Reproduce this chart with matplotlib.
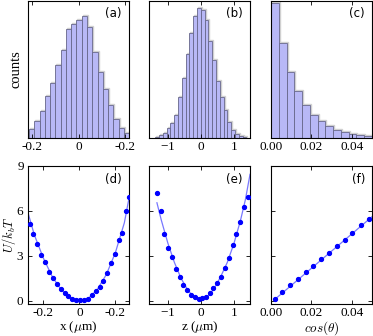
import numpy as np
import matplotlib
matplotlib.use("Agg")
import matplotlib.pyplot as plt
from matplotlib.transforms import offset_copy

plt.rcParams['font.family'] = ['Liberation Serif', 'DejaVu Serif']
plt.rcParams['mathtext.fontset'] = 'cm'
plt.rcParams['axes.formatter.use_mathtext'] = True

# histogram data (bin edges + counts)
a_edges = np.linspace(-0.211, 0.216, 20)
a_counts = [28, 52, 82, 126, 165, 219, 265, 328, 345, 357, 367, 335, 259, 200,
            149, 99, 57, 30, 14]

b_edges = np.linspace(-1.38, 1.38, 25)
b_counts = [3, 8, 15, 30, 45, 70, 125, 180, 255, 318, 368, 393, 385, 355, 292,
            235, 172, 125, 85, 47, 25, 13, 6, 3]

c_edges = np.linspace(0.0, 0.05, 14)
c_counts = [407, 288, 200, 143, 100, 70, 50, 35, 25, 17, 12, 8, 5]

# potentials
d_x = [-0.274, -0.256, -0.233, -0.211, -0.191, -0.168, -0.146, -0.126, -0.103,
       -0.081, -0.061, -0.039, -0.017, 0.004, 0.026, 0.048, 0.069, 0.091,
       0.113, 0.133, 0.156, 0.176, 0.198, 0.219, 0.239, 0.259, 0.278]
d_u = [5.15, 4.48, 3.8, 3.07, 2.6, 1.95, 1.55, 1.1, 0.8, 0.54, 0.32, 0.13,
       0.07, 0.05, 0.05, 0.13, 0.36, 0.63, 0.92, 1.32, 1.88, 2.53, 3.13, 4.07,
       4.54, 5.97, 6.9]
d_fit_x = [-0.285, -0.25, -0.2, -0.15, -0.1, -0.05, 0.0, 0.05, 0.1, 0.15, 0.2,
           0.25, 0.278]
d_fit_u = [5.87, 4.4, 2.85, 1.6, 0.72, 0.18, 0.0, 0.15, 0.75, 1.75, 3.2, 5.2,
           6.98]

e_x = [-1.33, -1.22, -1.11, -1.0, -0.88, -0.76, -0.64, -0.53, -0.41, -0.29,
       -0.17, -0.05, 0.05, 0.16, 0.27, 0.38, 0.49, 0.62, 0.73, 0.85, 0.96,
       1.07, 1.19, 1.30, 1.42]
e_u = [7.18, 6.0, 4.45, 3.54, 2.89, 2.15, 1.59, 1.07, 0.72, 0.4, 0.23, 0.13,
       0.15, 0.27, 0.5, 0.83, 1.21, 1.57, 2.19, 2.85, 3.69, 4.48, 5.28, 6.27,
       6.91]
e_fit_x = [-1.33, -1.2, -1.0, -0.8, -0.6, -0.4, -0.2, 0.0, 0.2, 0.4, 0.6, 0.8,
           1.0, 1.2, 1.35, 1.49]
e_fit_u = [6.54, 5.4, 3.85, 2.55, 1.5, 0.72, 0.22, 0.05, 0.25, 0.8, 1.6, 2.55,
           3.8, 5.35, 6.75, 8.44]

f_x = [0.002, 0.0057, 0.0095, 0.0133, 0.0172, 0.021, 0.025, 0.0288, 0.0327,
       0.0365, 0.0403, 0.0445, 0.0483]
f_u = [0.13, 0.56, 1.03, 1.48, 1.9, 2.35, 2.8, 3.18, 3.62, 4.07, 4.52, 5.06,
       5.48]
f_fit_x = [0.002, 0.0503]
f_fit_u = [0.1, 5.64]

fig = plt.figure(figsize=(3.73, 3.36), dpi=100)

lefts = [0.0751, 0.3995, 0.7265]
w = 0.2708
top_row = [fig.add_axes([l, 0.5893, w, 0.4092]) for l in lefts]
bot_row = [fig.add_axes([l, 0.0952, w, 0.411]) for l in lefts]

for ax in top_row + bot_row:
    ax.tick_params(direction='in', top=True, right=True, labelsize=9.5,
                   length=3, width=0.6, pad=2.5)
    for s in ax.spines.values():
        s.set_linewidth(0.8)


def hist(ax, edges, counts):
    edges = np.asarray(edges)
    shadow = offset_copy(ax.transData, fig=fig, x=1, y=1, units='dots')
    ax.bar(edges[:-1], counts, width=np.diff(edges), align='edge',
           facecolor='none', edgecolor='#d0d0d0', linewidth=1.0,
           transform=shadow)
    ax.bar(edges[:-1], counts, width=np.diff(edges), align='edge',
           facecolor='#b8b8f6', edgecolor='#66668a', linewidth=0.6)
    ax.set_ylim(0, 415)
    ax.set_yticks([])


hist(top_row[0], a_edges, a_counts)
hist(top_row[1], b_edges, b_counts)
hist(top_row[2], c_edges, c_counts)

ax = top_row[0]
ax.set_xlim(-0.215, 0.215)
ax.set_xticks([-0.2, 0, 0.2])
ax.set_xticklabels(['-0.2', '0', '-0.2'])
ax.set_ylabel('counts', fontsize=10.5, labelpad=4)

ax = top_row[1]
ax.set_xlim(-1.57, 1.49)
ax.set_xticks([-1, 0, 1])

ax = top_row[2]
ax.set_xlim(0, 0.05)
ax.set_xticks([0, 0.02, 0.04])
ax.set_xticklabels(['0.00', '0.02', '0.04'])

pt = dict(color='blue', marker='o', ms=2.8, ls='none', zorder=3)
ln = dict(color='#7878ff', lw=0.9, zorder=2)

ax = bot_row[0]
ax.plot(d_fit_x, d_fit_u, **ln)
ax.plot(d_x, d_u, **pt)
ax.set_xlim(-0.285, 0.276)
ax.set_xticks([-0.2, 0, 0.2])
ax.set_xticklabels(['-0.2', '0', '-0.2'])
ax.set_xlabel(r'x ($\mu$m)', fontsize=9.5)
ax.set_ylabel(r'$U/k_bT$', fontsize=9)
ax.yaxis.set_label_coords(-0.095, 0.5)

ax = bot_row[1]
ax.plot(e_fit_x, e_fit_u, **ln)
ax.plot(e_x, e_u, **pt)
ax.set_xlim(-1.57, 1.49)
ax.set_xticks([-1, 0, 1])
ax.set_xlabel(r'z ($\mu$m)', fontsize=9.5)

ax = bot_row[2]
ax.plot(f_fit_x, f_fit_u, **ln)
ax.plot(f_x, f_u, **pt)
ax.set_xlim(0, 0.05)
ax.set_xticks([0, 0.02, 0.04])
ax.set_xticklabels(['0.00', '0.02', '0.04'])
ax.set_xlabel(r'$cos(\theta)$', fontsize=9.5)

for i, ax in enumerate(bot_row):
    ax.set_ylim(-0.22, 9)
    ax.set_yticks([0, 3, 6, 9])
    ax.xaxis.set_label_coords(0.5, -0.11)
    if i > 0:
        ax.set_yticklabels([])

for ax, lab in zip(top_row + bot_row, ['(a)', '(b)', '(c)', '(d)', '(e)', '(f)']):
    ax.text(0.93, 0.95, lab, transform=ax.transAxes, ha='right', va='top',
            fontsize=8.5, family='DejaVu Sans')

fig.savefig('out.png', dpi=100)
